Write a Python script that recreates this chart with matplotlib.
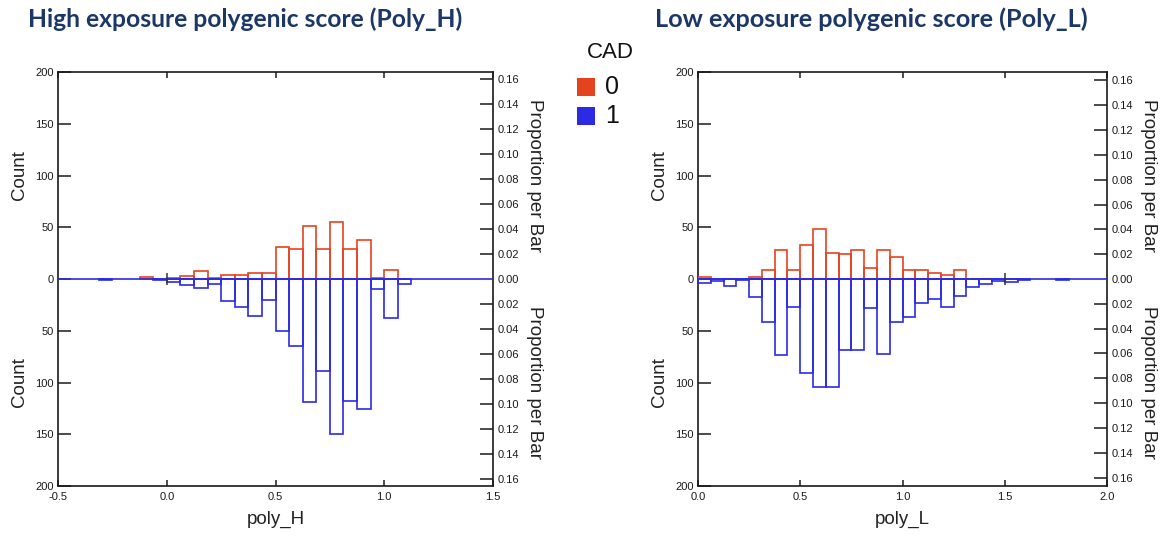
import numpy as np
import matplotlib
matplotlib.use("Agg")
import matplotlib.pyplot as plt
from matplotlib.patches import Rectangle

plt.rcParams["font.family"] = ["Liberation Sans", "DejaVu Sans"]

# Histogram counts by CAD status (0 = no CAD, 1 = CAD), bin width 0.0625
bin_width = 0.0625

poly_h_start = -0.3125
poly_h_cad0 = [0, 0, 0, 2, 0, 1, 3, 8, 1, 4, 4, 6, 6, 31, 29, 51, 29, 55, 29, 38, 1, 9, 0]
poly_h_cad1 = [1, 0, 0, 0, 1, 3, 6, 9, 5, 21, 27, 36, 20, 50, 65, 119, 89, 150, 118, 126, 10, 38, 5]

poly_l_start = 0.0
poly_l_cad0 = [2, 0, 0, 0, 2, 9, 28, 9, 33, 48, 25, 24, 28, 11, 28, 21, 9, 9, 6, 4, 9,
               0, 0, 0, 0, 0, 0, 0, 0]
poly_l_cad1 = [4, 2, 7, 1, 17, 42, 73, 27, 91, 104, 104, 69, 69, 28, 72, 42, 37, 23, 19, 27, 16,
               8, 5, 2, 3, 1, 0, 0, 1]

poly_h_marks = [0.0]
poly_l_marks = [1.5]

poly_h_xticks = [-0.5, 0.0, 0.5, 1.0, 1.5]
poly_l_xticks = [0.0, 0.5, 1.0, 1.5, 2.0]
count_ticks = [-200, -150, -100, -50, 0, 50, 100, 150, 200]
prop_ticks = [-0.16, -0.14, -0.12, -0.10, -0.08, -0.06, -0.04, -0.02, 0.0,
              0.02, 0.04, 0.06, 0.08, 0.10, 0.12, 0.14, 0.16]

titles = ["High exposure polygenic score (Poly_H)", "Low exposure polygenic score (Poly_L)"]
xlabels = ["poly_H", "poly_L"]
legend_title = "CAD"
legend_labels = ["0", "1"]

RED = "#E5431F"
BLUE = "#2B2BE3"
NAVY = "#1B3768"
SPINE = "#1a1a1a"

W, H = 1167, 536
fig = plt.figure(figsize=(W / 100, H / 100), dpi=100)


def px_axes(x0, x1, y0, y1):
    return fig.add_axes([x0 / W, 1 - y1 / H, (x1 - x0) / W, (y1 - y0) / H])


def draw_panel(ax, start, cad0, cad1, marks, xticks, xlabel):
    cad0 = np.asarray(cad0, dtype=float)
    cad1 = np.asarray(cad1, dtype=float)
    edges = start + bin_width * np.arange(len(cad0))
    total = cad0.sum() + cad1.sum()

    m0 = cad0 > 0
    m1 = cad1 > 0
    ax.bar(edges[m0], cad0[m0], width=bin_width, align="edge", fill=False,
           edgecolor=RED, linewidth=1.2, zorder=3)
    ax.bar(edges[m1], -cad1[m1], width=bin_width, align="edge", fill=False,
           edgecolor=BLUE, linewidth=1.2, zorder=3)
    ax.axhline(0, color=BLUE, linewidth=1.2, zorder=4)
    ax.plot(marks, np.zeros(len(marks)), marker="|", markersize=8, markeredgewidth=1.1,
            color="#333333", linestyle="none", zorder=5)

    ax.set_xlim(xticks[0], xticks[-1])
    ax.set_ylim(-200, 200)
    ax.set_xticks(xticks)
    ax.set_xticklabels([f"{t:.1f}" for t in xticks])
    ax.set_yticks(count_ticks)
    ax.set_yticklabels([f"{abs(t):d}" for t in count_ticks])
    ax.tick_params(axis="x", direction="in", length=4.5, width=1.1, top=True,
                   labelsize=8, pad=4, colors=SPINE)
    ax.tick_params(axis="y", direction="in", length=9.5, width=1.1,
                   labelsize=8, pad=3, colors=SPINE)
    for tk in ax.yaxis.get_major_ticks():
        if tk.get_loc() == 0:
            tk.tick1line.set_visible(False)
    for s in ax.spines.values():
        s.set_color(SPINE)
        s.set_linewidth(1.2)
    ax.set_xlabel(xlabel, fontsize=13.5, labelpad=7, color="#222222")

    ax2 = ax.twinx()
    ax2.set_ylim(-200 / total, 200 / total)
    ax2.set_yticks(prop_ticks)
    ax2.set_yticklabels([f"{abs(t):.2f}" for t in prop_ticks])
    ax2.tick_params(axis="y", direction="in", length=9.5, width=1.1,
                    labelsize=8, pad=3, colors=SPINE)
    for tk in ax2.yaxis.get_major_ticks():
        if abs(tk.get_loc()) < 1e-9:
            tk.tick2line.set_visible(False)
    for s in ax2.spines.values():
        s.set_visible(False)

    # Axis titles for the upper (CAD 0) and lower (CAD 1) halves
    wpx = ax.get_position().width * W
    for yc in (100, -100):
        ax.text(-38.5 / wpx, yc, "Count", rotation=90, ha="center", va="center",
                fontsize=13.5, color="#222222", transform=ax.get_yaxis_transform())
        ax.text(1 + 41 / wpx, yc, "Proportion per Bar", rotation=270, ha="center",
                va="center", fontsize=13.5, color="#222222",
                transform=ax.get_yaxis_transform())


ax_h = px_axes(58, 493, 72, 486)
draw_panel(ax_h, poly_h_start, poly_h_cad0, poly_h_cad1, poly_h_marks, poly_h_xticks, xlabels[0])
ax_l = px_axes(698, 1107, 72, 486)
draw_panel(ax_l, poly_l_start, poly_l_cad0, poly_l_cad1, poly_l_marks, poly_l_xticks, xlabels[1])

# Panel titles, sized to span their column
renderer = fig.canvas.get_renderer()
for x0, x1, txt in ((28, 465, titles[0]), (655, 1090, titles[1])):
    t = fig.text(x0 / W, 1 - 19 / H, txt, fontsize=15, fontweight="bold", color=NAVY,
                 family=["Lato", "DejaVu Sans"], ha="left", va="center")
    w = t.get_window_extent(renderer).width
    t.set_fontsize(15 * (x1 - x0) / w)

# Legend
fig.text(610 / W, 1 - 52 / H, legend_title, fontsize=16, ha="center", va="center", color="#111111")
for (yy, col, lab) in ((78, RED, legend_labels[0]), (107, BLUE, legend_labels[1])):
    fig.patches.append(Rectangle((577 / W, 1 - (yy + 18) / H), 18 / W, 18 / H,
                                 transform=fig.transFigure, facecolor=col, edgecolor="none"))
    fig.text(605 / W, 1 - (yy + 9) / H, lab, fontsize=18, ha="left", va="center", color="#111111")

fig.savefig("out.png", dpi=100, facecolor="white")
